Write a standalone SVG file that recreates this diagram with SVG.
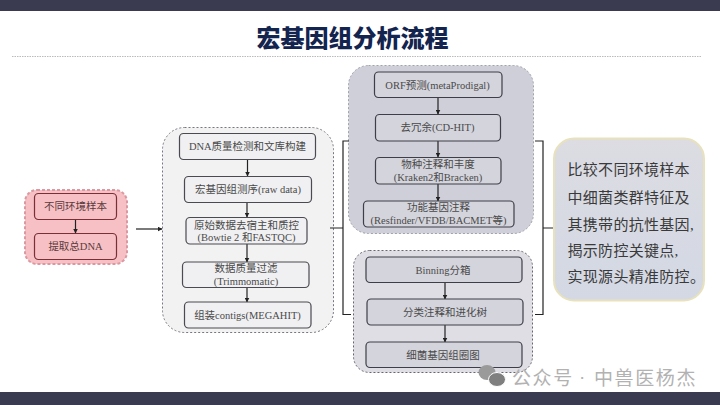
<svg xmlns="http://www.w3.org/2000/svg" width="720" height="405" viewBox="0 0 720 405">
<defs>
<marker id="arr" markerWidth="5" markerHeight="5" refX="4.5" refY="2.5" orient="auto" markerUnits="userSpaceOnUse"><path d="M0 0L5 2.5L0 5Z" fill="#222"/></marker>
<linearGradient id="side" x1="0" y1="0" x2="0" y2="1"><stop offset="0" stop-color="#dcdce2"/><stop offset="1" stop-color="#d3d8e4"/></linearGradient>
</defs>
<style>
text{font-family:"Liberation Serif","Noto Sans CJK SC",serif;text-anchor:middle;dominant-baseline:central}
.bar{fill:#3a3b50}
.panel{fill:#f2f2f3;stroke:#77777f;stroke-width:1;stroke-dasharray:2 2}
.panelb{fill:#cfcfd9;stroke:#a2a2ac;stroke-width:1;stroke-dasharray:2 2}
.panelc{fill:#dedee4;stroke:#66666e;stroke-width:1;stroke-dasharray:2 2}
.panelr{fill:#f6c0c4;stroke:#dc98a0;stroke-width:2;stroke-dasharray:3 2}
.n{fill:#f0f0f2;stroke:#4a4a50;stroke-width:1.2}
.nb{fill:#d4d4dc;stroke:#3e3e48;stroke-width:1.2}
.nr{fill:#f6c0c4;stroke:#7a2e36;stroke-width:1.2}
.t{font-size:10.5px;fill:#4a4a4a}
.c{fill:none;stroke:#222;stroke-width:1.2}
.a{marker-end:url(#arr)}
.side{font-size:15px;letter-spacing:.3px;fill:#3a3a3a;text-anchor:start}
.wm{font-family:"Noto Sans CJK SC","Noto Sans",sans-serif;font-size:19px;letter-spacing:1.6px;fill:#b2b2b2;text-anchor:start}
.dot{font-family:"Liberation Sans",sans-serif;font-size:19px;fill:#b2b2b2;text-anchor:start}
</style>
<rect width="720" height="405" fill="#fff"/>
<rect class="bar" width="720" height="11"/>
<rect class="bar" y="392" width="720" height="13"/>
<text x="352.500" y="36" style="font-family:'Noto Sans CJK SC','Liberation Sans',sans-serif;font-weight:900;font-size:24px;fill:#13244f">宏基因组分析流程</text>
<line x1="12" y1="56.500" x2="702" y2="56.500" stroke="#bbb" stroke-width="1" stroke-dasharray="1.500 1"/>

<g id="panel-sample"><rect class="panelr" x="25" y="190" width="102" height="74" rx="12"/></g>
<g id="panel-qc"><rect class="panel" x="162.500" y="127.500" width="171" height="205" rx="22"/></g>
<g id="panel-annotation"><rect class="panelb" x="348.500" y="65.500" width="185" height="168" rx="20"/></g>
<g id="panel-binning"><rect class="panelc" x="353.500" y="250.500" width="179" height="122" rx="16"/></g>

<g id="connectors">
<path class="c a" d="M75.500 219V233"/>
<path class="c a" d="M136 229H162"/>
<path class="c a" d="M247.500 159V176"/>
<path class="c a" d="M247 202V217"/>
<path class="c a" d="M247 244V262"/>
<path class="c a" d="M247 287V302"/>
<path class="c a" d="M438 97V114"/>
<path class="c a" d="M438 141V157"/>
<path class="c a" d="M438 184V201"/>
<path class="c a" d="M445 282V299"/>
<path class="c a" d="M445 325V342"/>
<path class="c" d="M330 228H343M349 141H343V314.500H351"/>
<path class="c" d="M535 141H543V314.500H535M543 228H556"/>
</g>

<g id="n-sample"><rect class="nr" x="34.500" y="193.500" width="82" height="26" rx="4"/><text class="t" x="75.500" y="206.500" style="fill:#5a3a3c">不同环境样本</text></g>
<g id="n-dna"><rect class="nr" x="34.500" y="233.500" width="82" height="26" rx="4"/><text class="t" x="75.500" y="246.500" style="fill:#5a3a3c">提取总DNA</text></g>

<g id="n-qc1"><rect class="n" x="179.500" y="133.500" width="136" height="26" rx="4"/><text class="t" x="247.500" y="146.500">DNA质量检测和文库构建</text></g>
<g id="n-qc2"><rect class="n" x="184.500" y="176.500" width="127" height="26" rx="4"/><text class="t" x="248" y="189.500">宏基因组测序(raw data)</text></g>
<g id="n-qc3"><rect class="n" x="186" y="217.500" width="121" height="26.500" rx="4"/><text class="t" x="246.500" y="225">原始数据去宿主和质控</text><text class="t" x="246.500" y="237.500">(Bowtie 2 和FASTQC)</text></g>
<g id="n-qc4"><rect class="n" x="182.500" y="262" width="126.500" height="25.500" rx="4"/><text class="t" x="246" y="268.500">数据质量过滤</text><text class="t" x="246" y="281">(Trimmomatic)</text></g>
<g id="n-qc5"><rect class="n" x="184.500" y="302" width="126.500" height="26" rx="4"/><text class="t" x="247.500" y="315">组装contigs(MEGAHIT)</text></g>

<g id="n-a1"><rect class="nb" x="374.500" y="72" width="127.500" height="25.500" rx="4"/><text class="t" x="437.500" y="85">ORF预测(metaProdigal)</text></g>
<g id="n-a2"><rect class="nb" x="375.500" y="114.500" width="125" height="26.500" rx="4"/><text class="t" x="437.500" y="127.500">去冗余(CD-HIT)</text></g>
<g id="n-a3"><rect class="nb" x="375.500" y="157.500" width="125.500" height="26.500" rx="4"/><text class="t" x="438" y="164.500">物种注释和丰度</text><text class="t" x="438" y="177.500">(Kraken2和Bracken)</text></g>
<g id="n-a4"><rect class="nb" x="363.500" y="201" width="150.500" height="26" rx="4"/><text class="t" x="438.500" y="207.500">功能基因注释</text><text class="t" x="438.500" y="220.500">(Resfinder/VFDB/BACMET等)</text></g>

<g id="n-b1"><rect class="nb" x="366" y="257" width="156" height="25.500" rx="4"/><text class="t" x="443" y="270">Binning分箱</text></g>
<g id="n-b2"><rect class="nb" x="367" y="299" width="156" height="26" rx="4"/><text class="t" x="445" y="312">分类注释和进化树</text></g>
<g id="n-b3"><rect class="nb" x="366" y="342" width="156" height="25.500" rx="4"/><text class="t" x="443" y="355">细菌基因组圈图</text></g>

<g id="n-summary"><rect x="554" y="138.500" width="150" height="162" rx="20" fill="url(#side)" stroke="#e8e2bc" stroke-width="2"/>
<text class="side" x="567.500" y="170">比较不同环境样本</text>
<text class="side" x="567.500" y="197.500">中细菌类群特征及</text>
<text class="side" x="567.500" y="224.500">其携带的抗性基因,</text>
<text class="side" x="567.500" y="250.500">揭示防控关键点,</text>
<text class="side" x="567.500" y="277">实现源头精准防控。</text></g>

<g id="watermark">
<ellipse cx="487" cy="372.500" rx="8.500" ry="7.500" fill="#9a9a9a"/>
<ellipse cx="497" cy="379.500" rx="8.500" ry="7" fill="#7f7f7f" stroke="#fff" stroke-width="1"/>
<text class="wm" x="512" y="376">公众号</text><text class="dot" x="579" y="376">·</text><text class="wm" x="594" y="376">中兽医杨杰</text>
</g>
</svg>
